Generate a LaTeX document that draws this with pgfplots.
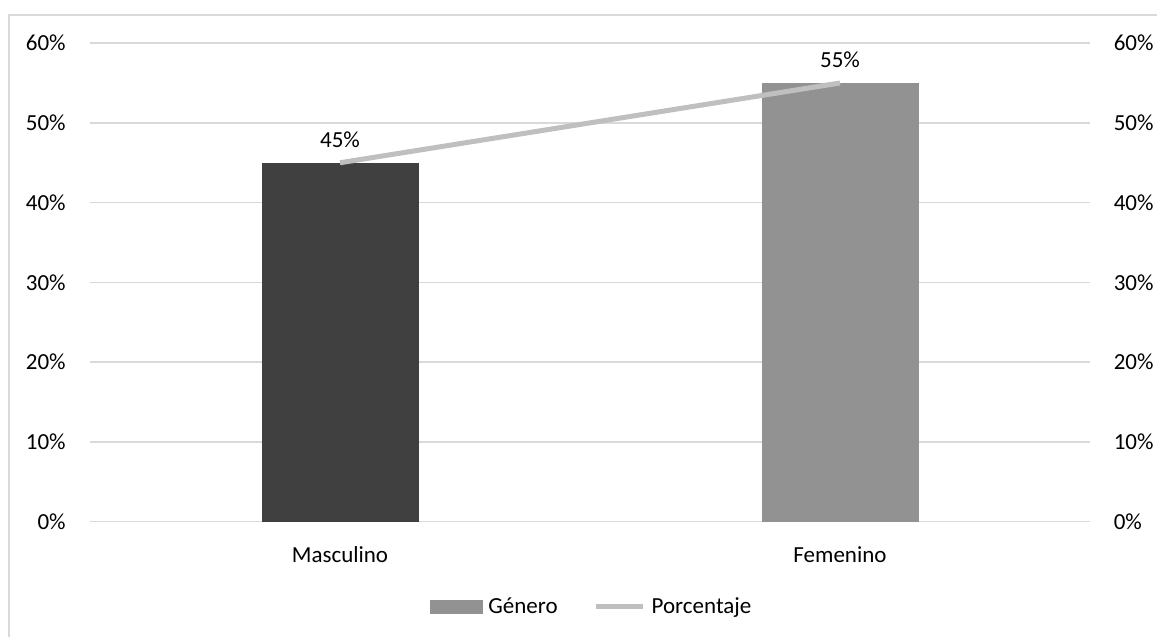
\documentclass[border=0pt]{standalone}
\usepackage{fontspec}
\setmainfont{Carlito}
\usepackage{pgfplots}
\pgfplotsset{compat=1.18}

\definecolor{barDark}{HTML}{404040}
\definecolor{barMid}{HTML}{929292}
\definecolor{lineGray}{HTML}{BFBFBF}
\definecolor{gridGray}{HTML}{D9D9D9}

\newcommand{\chartfont}{\fontsize{11.5pt}{14pt}\selectfont}

\begin{document}
\begin{tikzpicture}[font=\chartfont]
  % page frame
  \useasboundingbox (0,0) rectangle (578.5pt,318.5pt);
  \draw[gridGray, line width=0.8pt] (4.5pt,0) -- (4.5pt,311pt) -- (578.5pt,311pt);

  % primary axis: bars, left percentage scale
  \begin{axis}[
    at={(45pt,57.65pt)}, anchor=south west,
    scale only axis, width=500pt, height=239.3pt,
    xmin=-0.5, xmax=1.5, ymin=0, ymax=60,
    xtick={0,1}, xticklabels={Masculino,Femenino},
    ytick={0,10,...,60},
    yticklabel={\pgfmathprintnumber{\tick}\%},
    /pgf/number format/assume math mode=true,
    major tick length=0pt,
    axis line style={draw=none},
    ymajorgrids, grid style={gridGray, line width=0.8pt},
    tick label style={font=\chartfont},
    yticklabel style={anchor=east, inner sep=0pt, xshift=-12pt},
    xticklabel style={anchor=base, inner sep=0pt, yshift=-20.15pt},
    ybar, bar width=78.5pt, bar shift=0pt,
    legend style={draw=none, fill=none, font=\chartfont,
      at={(0.5035,-0.178)}, anchor=center, legend columns=2,
      inner sep=0pt,
      nodes={inner xsep=3pt, inner ysep=0pt},
      /tikz/every even column/.append style={column sep=15pt}},
  ]
    \addplot[fill=barDark, draw=none, forget plot] coordinates {(0,45)};
    \addplot[fill=barMid, draw=none, forget plot] coordinates {(1,55)};
    \addlegendimage{legend image code/.code={\fill[barMid] (0pt,-3.25pt) rectangle (26pt,3.25pt);}}
    \addlegendentry{Género}
    \addlegendimage{legend image code/.code={\draw[lineGray, line width=2.5pt] (0pt,0pt) -- (23.5pt,0pt);}}
    \addlegendentry{Porcentaje}
  \end{axis}

  % secondary axis: line series, right percentage scale
  \begin{axis}[
    at={(45pt,57.65pt)}, anchor=south west,
    scale only axis, width=500pt, height=239.3pt,
    xmin=-0.5, xmax=1.5, ymin=0, ymax=60,
    hide x axis,
    axis y line*=right,
    axis line style={draw=none},
    major tick length=0pt,
    ytick={0,10,...,60},
    yticklabel={\pgfmathprintnumber{\tick}\%},
    /pgf/number format/assume math mode=true,
    tick label style={font=\chartfont},
    yticklabel style={anchor=west, inner sep=0pt, xshift=11.7pt},
  ]
    \addplot[lineGray, line width=2.5pt, line cap=butt,
      nodes near coords={\pgfmathprintnumber{\pgfplotspointmeta}\%},
      nodes near coords style={font=\chartfont, text=black, anchor=base, inner sep=0pt, yshift=7.75pt},
    ] coordinates {(0,45) (1,55)};
  \end{axis}
\end{tikzpicture}
\end{document}
